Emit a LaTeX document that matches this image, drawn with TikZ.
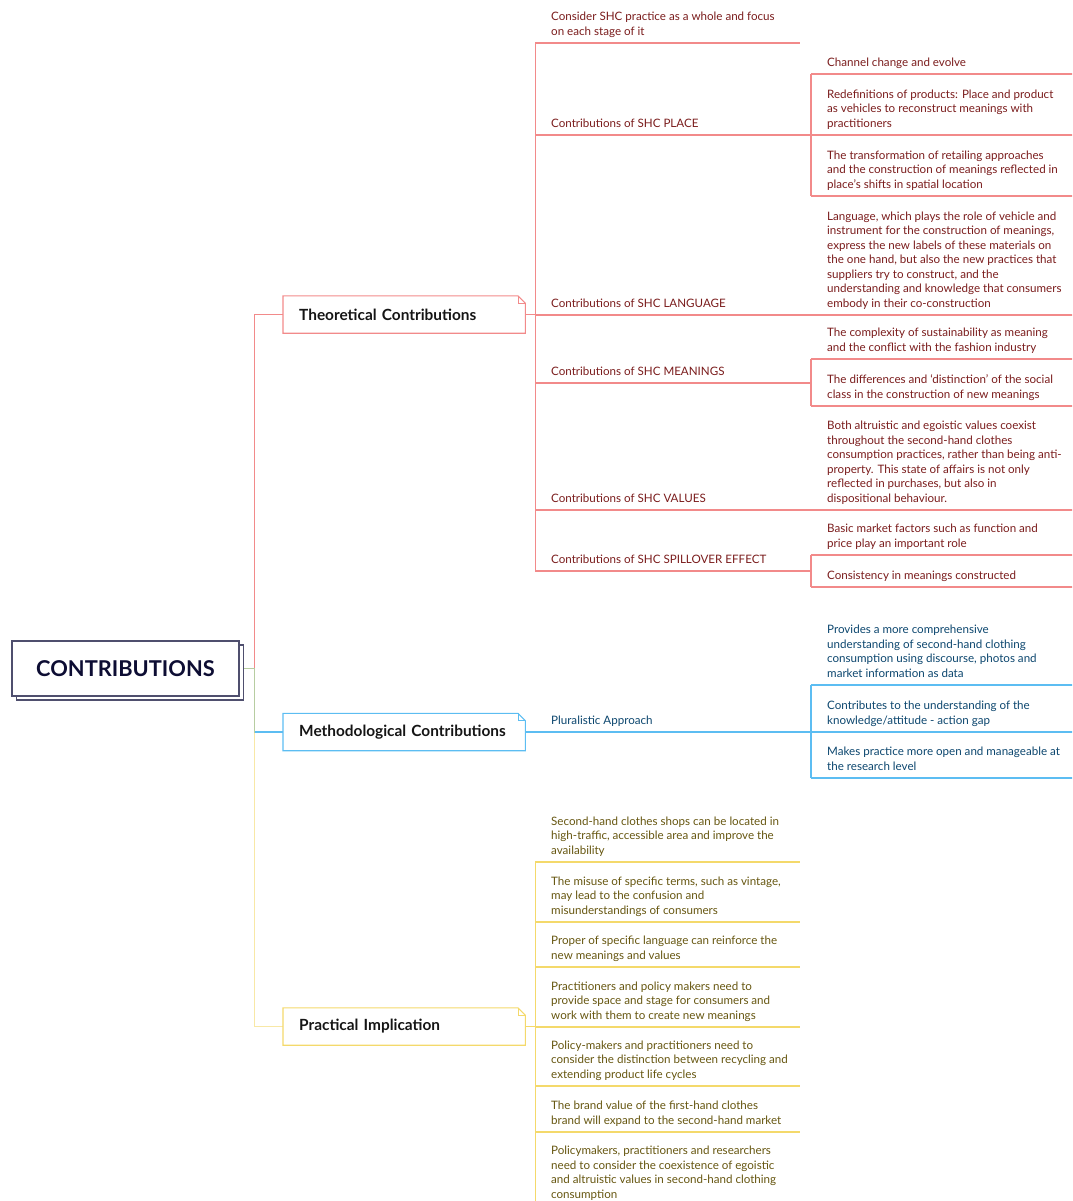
\documentclass[tikz,border=0pt]{standalone}
\usepackage{fontspec}
\setmainfont{Lato}
\usetikzlibrary{shadows}

\definecolor{rdline}{HTML}{F28A8A}
\definecolor{rdtext}{HTML}{7A1C1C}
\definecolor{blline}{HTML}{5CBDF2}
\definecolor{bltext}{HTML}{0C466E}
\definecolor{ylline}{HTML}{F4D96B}
\definecolor{yltext}{HTML}{665610}
\definecolor{rootline}{HTML}{4F4F6E}
\definecolor{roottext}{HTML}{0D0D33}
\definecolor{branchtext}{HTML}{151515}

\newcommand\bodysize{\fontsize{11.6}{14.5}\selectfont}

\pgfdeclarelayer{bg}
\pgfsetlayers{bg,main}

% one underlined topic: #1 colour prefix, #2 name, #3 x of line, #4 y of line, #5 line length, #6 text
\newcommand\mmtopic[6]{%
  \coordinate (#2-l) at (#3,#4);
  \coordinate (#2-r) at (#3+#5,#4);
  \draw[#1line, conn] (#2-l) -- (#2-r);
  \node[topictext, text=#1text] (#2) at (#3+16,#4-3.4) {#6};
}

% outline of a main branch with a folded top-right corner
\newcommand\foldbox[2]{%
  \draw[#1, line width=1.1pt, line join=miter]
    (#2.south west) -- (#2.north west) -- ([xshift=-7.5pt]#2.north east)
    -- ([yshift=-7.5pt]#2.north east) -- (#2.south east) -- cycle;
  \draw[#1, line width=0.7pt] ([xshift=-7.5pt]#2.north east) |- ([yshift=-7.5pt]#2.north east);
}

\tikzset{
  conn/.style={line width=1.15pt},
  topictext/.style={anchor=south west, inner sep=0pt, align=left, font=\bodysize,
    execute at end node={\strut}},
  branch/.style={anchor=west, minimum height=37pt, text width=210pt, inner xsep=16pt,
    inner ysep=0pt, align=left, font=\fontsize{15.4}{17}\selectfont\bfseries, text=branchtext},
  rootbox/.style={minimum width=227pt, minimum height=55pt, inner sep=0pt, draw=rootline,
    line width=1.2pt, fill=white, text=roottext, font=\fontsize{21.8}{24}\selectfont\bfseries,
    copy shadow={shadow xshift=4.5pt, shadow yshift=-4pt}},
}

\begin{document}
\begin{tikzpicture}[x=1pt, y=-1pt]
\useasboundingbox (0,0) rectangle (1072,1201);
\clip (0,0) rectangle (1072,1201);

% root and main branches
\node[rootbox] (root) at (125.5,668.5) {CONTRIBUTIONS};
\node[branch] (theo) at (283,314.5) {Theoretical Contributions};
\node[branch] (meth) at (283,732) {Methodological Contributions};
\node[branch] (prac) at (283,1026.5) {Practical Implication};
\foldbox{rdline}{theo}
\foldbox{blline}{meth}
\foldbox{ylline}{prac}

% theoretical contributions
\mmtopic{rd}{t1}{535}{43}{265}{Consider SHC practice as a whole and focus\\on each stage of it}
\mmtopic{rd}{t2}{535}{135}{265}{Contributions of SHC PLACE}
\mmtopic{rd}{t2a}{811}{74}{265}{Channel change and evolve}
\mmtopic{rd}{t2b}{811}{135}{265}{Redefinitions of products: Place and product\\as vehicles to reconstruct meanings with\\practitioners}
\mmtopic{rd}{t2c}{811}{196}{265}{The transformation of retailing approaches\\and the construction of meanings reflected in\\place's shifts in spatial location}
\mmtopic{rd}{t3}{535}{315}{265}{Contributions of SHC LANGUAGE}
\mmtopic{rd}{t3a}{811}{315}{265}{Language, which plays the role of vehicle and\\instrument for the construction of meanings,\\express the new labels of these materials on\\the one hand, but also the new practices that\\suppliers try to construct, and the\\understanding and knowledge that consumers\\embody in their co-construction}
\mmtopic{rd}{t4}{535}{383}{265}{Contributions of SHC MEANINGS}
\mmtopic{rd}{t4a}{811}{359}{265}{The complexity of sustainability as meaning\\and the conflict with the fashion industry}
\mmtopic{rd}{t4b}{811}{406}{265}{The differences and `distinction' of the social\\class in the construction of new meanings}
\mmtopic{rd}{t5}{535}{510}{265}{Contributions of SHC VALUES}
\mmtopic{rd}{t5a}{811}{510}{265}{Both altruistic and egoistic values coexist\\throughout the second-hand clothes\\consumption practices, rather than being anti-\\property. This state of affairs is not only\\reflected in purchases, but also in\\dispositional behaviour.}
\mmtopic{rd}{t6}{535}{571}{265}{Contributions of SHC SPILLOVER EFFECT}
\mmtopic{rd}{t6a}{811}{555}{265}{Basic market factors such as function and\\price play an important role}
\mmtopic{rd}{t6b}{811}{587}{265}{Consistency in meanings constructed}

% methodological contributions
\mmtopic{bl}{m1}{535}{732}{265}{Pluralistic Approach}
\mmtopic{bl}{m1a}{811}{685}{265}{Provides a more comprehensive\\understanding of second-hand clothing\\consumption using discourse, photos and\\market information as data}
\mmtopic{bl}{m1b}{811}{732}{265}{Contributes to the understanding of the\\knowledge/attitude - action gap}
\mmtopic{bl}{m1c}{811}{778}{265}{Makes practice more open and manageable at\\the research level}

% practical implication
\mmtopic{yl}{p1}{535}{862}{265}{Second-hand clothes shops can be located in\\high-traffic, accessible area and improve the\\availability}
\mmtopic{yl}{p2}{535}{922}{265}{The misuse of specific terms, such as vintage,\\may lead to the confusion and\\misunderstandings of consumers}
\mmtopic{yl}{p3}{535}{967}{265}{Proper of specific language can reinforce the\\new meanings and values}
\mmtopic{yl}{p4}{535}{1027}{265}{Practitioners and policy makers need to\\provide space and stage for consumers and\\work with them to create new meanings}
\mmtopic{yl}{p5}{535}{1086}{265}{Policy-makers and practitioners need to\\consider the distinction between recycling and\\extending product life cycles}
\mmtopic{yl}{p6}{535}{1132}{265}{The brand value of the first-hand clothes\\brand will expand to the second-hand market}
\mmtopic{yl}{p7}{535}{1206}{265}{Policymakers, practitioners and researchers\\need to consider the coexistence of egoistic\\and altruistic values in second-hand clothing\\consumption}

% connectors
\begin{pgfonlayer}{bg}
  \draw[rdline, conn] (root.east) -- ++(15,0) |- (theo.west);
  \draw[blline, conn] (root.east) -- ++(15,0) |- (meth.west);
  \draw[ylline, conn, draw opacity=0.6] (root.east) -- ++(15,0) |- (prac.west);

  \foreach \c in {t1,t2,t3,t4,t5,t6}
    \draw[rdline, conn] (theo.east) -- ++(10,0) |- (\c-l);
  \foreach \p/\c in {t2/t2a,t2/t2b,t2/t2c,t3/t3a,t4/t4a,t4/t4b,t5/t5a,t6/t6a,t6/t6b}
    \draw[rdline, conn] (\p-r) -- ++(11,0) |- (\c-l);

  \draw[blline, conn] (meth.east) -- ++(10,0) |- (m1-l);
  \foreach \c in {m1a,m1b,m1c}
    \draw[blline, conn] (m1-r) -- ++(11,0) |- (\c-l);

  \foreach \c in {p1,p2,p3,p4,p5,p6,p7}
    \draw[ylline, conn] (prac.east) -- ++(10,0) |- (\c-l);
\end{pgfonlayer}
\end{tikzpicture}
\end{document}
